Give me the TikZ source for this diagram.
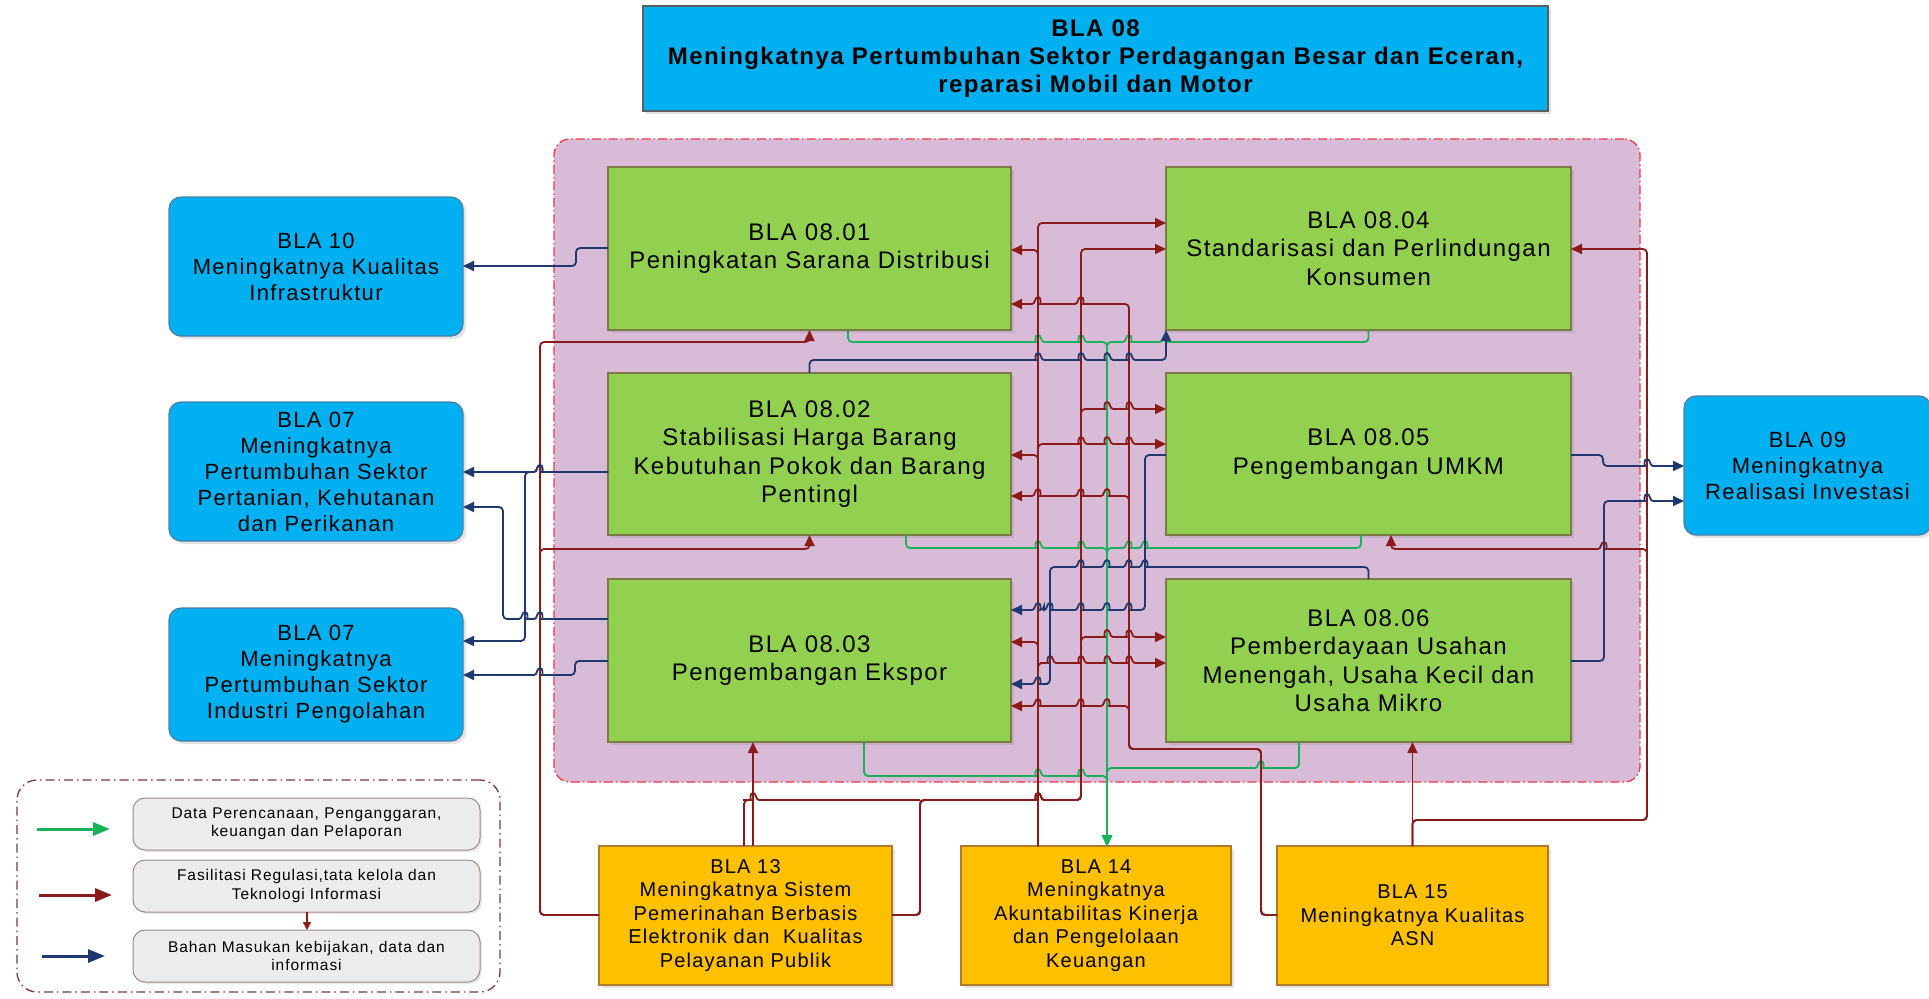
\documentclass[tikz,border=0pt]{standalone}
\usepackage{fontspec}
\setmainfont{Liberation Sans}[LetterSpace=6]
\usetikzlibrary{arrows.meta,shadows}
\definecolor{cblue}{HTML}{00B0F0}
\definecolor{cgreen}{HTML}{92D050}
\definecolor{cyel}{HTML}{FFC000}
\definecolor{cpurp}{HTML}{D8BCD7}
\definecolor{bborder}{HTML}{4A7EA8}
\definecolor{tborder}{HTML}{5A5F66}
\definecolor{gborder}{HTML}{7D7A48}
\definecolor{yborder}{HTML}{B07A30}
\definecolor{lred}{HTML}{8B1A1A}
\definecolor{lblue}{HTML}{1F3870}
\definecolor{lgreen}{HTML}{19B25A}
\definecolor{frame}{HTML}{F0364A}
\definecolor{legb}{HTML}{A08A8A}
\definecolor{legfill}{HTML}{ECECEC}
\definecolor{legframe}{HTML}{7A3A3A}
\newcommand\hopR[2]{-- ({#1-6},#2) [sharp corners] .. controls ({#1-2.5},#2) and ({#1-3.5},{#2-7}) .. (#1,{#2-7}) .. controls ({#1+3.5},{#2-7}) and ({#1+2.5},#2) .. ({#1+6},#2) [rounded corners=4pt]}
\newcommand\hopL[2]{-- ({#1+6},#2) [sharp corners] .. controls ({#1+2.5},#2) and ({#1+3.5},{#2-7}) .. (#1,{#2-7}) .. controls ({#1-3.5},{#2-7}) and ({#1-2.5},#2) .. ({#1-6},#2) [rounded corners=4pt]}
\begin{document}
\begin{tikzpicture}[x=1pt,y=-1pt,
  every node/.style={inner sep=0pt,outer sep=0pt},
  boxbase/.style={draw,line width=1.2pt,align=center,text=black,
    drop shadow={opacity=0.22,shadow xshift=3pt,shadow yshift=-3pt}},
  topbox/.style={boxbase,fill=cblue,draw=tborder,font=\bfseries\fontsize{24}{28}\selectfont},
  bluebox/.style={boxbase,fill=cblue,draw=bborder,rounded corners=12pt,font=\fontsize{22}{26}\selectfont},
  greenbox/.style={boxbase,fill=cgreen,draw=gborder,minimum height=163pt,font=\fontsize{24}{28.5}\selectfont},
  yelbox/.style={boxbase,fill=cyel,draw=yborder,minimum height=139pt,font=\fontsize{20}{23.5}\selectfont},
  legbox/.style={draw=legb,line width=1pt,fill=legfill,rounded corners=12pt,align=center,
    minimum width=347pt,minimum height=52pt,font=\fontsize{15.5}{18.5}\selectfont,
    drop shadow={opacity=0.18,shadow xshift=2pt,shadow yshift=-2pt}},
  conn/.style={line width=1.8pt,rounded corners=4pt,-{Triangle[length=11pt,width=10pt]}},
  rl/.style={conn,draw=lred},
  rln/.style={rl,-},
  bl/.style={conn,draw=lblue},
  gl/.style={conn,draw=lgreen},
  legarrow/.style={line width=3pt,-{Triangle[length=17pt,width=13pt]}},
]
\useasboundingbox (0,0) rectangle (1929,998);

% container and legend frame
\node[draw=frame,line width=1.3pt,fill=cpurp,rounded corners=16pt,
  dash pattern=on 9pt off 3pt on 1.5pt off 3pt,
  minimum width=1086pt,minimum height=643pt] (cont) at (1097,460.5) {};
\node[draw=legframe,line width=1.3pt,rounded corners=20pt,
  dash pattern=on 9pt off 4pt on 1.5pt off 4pt,
  minimum width=483pt,minimum height=212pt] (leg) at (258.5,886) {};

% boxes
\node[topbox,minimum width=905pt,minimum height=105pt] (b08) at (1095.5,58.5)
  {BLA 08\\Meningkatnya Pertumbuhan Sektor Perdagangan Besar dan Eceran,\\reparasi Mobil dan Motor};
\node[greenbox,minimum width=403pt] (b01) at (809.5,248.5) {BLA 08.01\\Peningkatan Sarana Distribusi};
\node[greenbox,minimum width=403pt,minimum height=162pt] (b02) at (809.5,454) {BLA 08.02\\Stabilisasi Harga Barang\\Kebutuhan Pokok dan Barang\\Pentingl};
\node[greenbox,minimum width=403pt] (b03) at (809.5,660.5) {BLA 08.03\\Pengembangan Ekspor};
\node[greenbox,minimum width=405pt] (b04) at (1368.5,248.5) {BLA 08.04\\Standarisasi dan Perlindungan\\Konsumen};
\node[greenbox,minimum width=405pt,minimum height=162pt] (b05) at (1368.5,454) {BLA 08.05\\Pengembangan UMKM};
\node[greenbox,minimum width=405pt] (b06) at (1368.5,660.5) {BLA 08.06\\Pemberdayaan Usahan\\Menengah, Usaha Kecil dan\\Usaha Mikro};

\node[bluebox,minimum width=294pt,minimum height=139pt] (b10) at (316,266.5) {BLA 10\\Meningkatnya Kualitas\\Infrastruktur};
\node[bluebox,minimum width=294pt,minimum height=139pt] (b07a) at (316,471.5) {BLA 07\\Meningkatnya\\Pertumbuhan Sektor\\Pertanian, Kehutanan\\dan Perikanan};
\node[bluebox,minimum width=294pt,minimum height=133pt] (b07b) at (316,674.5) {BLA 07\\Meningkatnya\\Pertumbuhan Sektor\\Industri Pengolahan};
\node[bluebox,minimum width=247pt,minimum height=139pt] (b09) at (1807.5,465.5) {BLA 09\\Meningkatnya\\Realisasi Investasi};

\node[yelbox,minimum width=293pt] (b13) at (745.5,915.5) {BLA 13\\Meningkatnya Sistem\\Pemerinahan Berbasis\\Elektronik dan\ \ Kualitas\\Pelayanan Publik};
\node[yelbox,minimum width=270pt] (b14) at (1096,915.5) {BLA 14\\Meningkatnya\\Akuntabilitas Kinerja\\dan Pengelolaan\\Keuangan};
\node[yelbox,minimum width=271pt] (b15) at (1412.5,915.5) {BLA 15\\Meningkatnya Kualitas\\ASN};

% legend
\node[legbox] (l1) at (306.5,824) {Data Perencanaan, Penganggaran,\\keuangan dan Pelaporan};
\node[legbox] (l2) at (306.5,886) {Fasilitasi Regulasi,tata kelola dan\\Teknologi Informasi};
\node[legbox] (l3) at (306.5,956) {Bahan Masukan kebijakan, data dan\\informasi};
\coordinate (g1a) at (37,829);  \coordinate (g1b) at (110,829);
\coordinate (g2a) at (39,895);  \coordinate (g2b) at (112,895);
\coordinate (g3a) at (42,956);  \coordinate (g3b) at (105,956);
\draw[legarrow,draw=lgreen,fill=lgreen] (g1a) -- (g1b);
\draw[legarrow,draw=lred,fill=lred] (g2a) -- (g2b);
\draw[legarrow,draw=lblue,fill=lblue] (g3a) -- (g3b);
\draw[rl,line width=1.4pt,-{Triangle[length=8pt,width=8pt]}] (l2.south -| 307,0) -- (l3.north -| 307,0);

% green connectors -> BLA 14
\draw[gl] (b01.south -| 848,0) -- (848,342) \hopR{1038}{342} \hopR{1081}{342} -- (1107,342) -- (b14.north -| 1107,0);
\draw[gl] (b04.south) -- (1368.5,342) \hopL{1166}{342} \hopL{1129}{342} -- (1107,342) -- (b14.north -| 1107,0);
\draw[gl] (b02.south -| 906,0) -- (906,548) \hopR{1038}{548} \hopR{1081}{548} -- (1107,548) -- (b14.north -| 1107,0);
\draw[gl] (b05.south -| 1361,0) -- (1361,548) \hopL{1145}{548} \hopL{1129}{548} -- (1107,548) -- (b14.north -| 1107,0);
\draw[gl] (b03.south -| 864,0) -- (864,776) \hopR{1038}{776} \hopR{1081}{776} -- (1107,776) -- (b14.north -| 1107,0);
\draw[gl] (b06.south -| 1299,0) -- (1299,768) \hopL{1261}{768} -- (1107,768) -- (b14.north -| 1107,0);

% red connectors from BLA 14
\draw[rl] (b14.north -| 1038,0) -- (1038,223) -- (b04.west |- 0,223);
\draw[rl] (b14.north -| 1038,0) -- (1038,250) -- (b01.east |- 0,250);
\draw[rl] (b14.north -| 1038,0) -- (1038,444) \hopR{1081}{444} \hopR{1107}{444} \hopR{1129}{444} -- (b05.west |- 0,444);
\draw[rl] (b14.north -| 1038,0) -- (1038,455) -- (b02.east |- 0,455);
\draw[rl] (b14.north -| 1038,0) -- (1038,642) -- (b03.east |- 0,642);
\draw[rl] (b14.north -| 1038,0) -- (1038,663) \hopR{1050}{663} \hopR{1081}{663} \hopR{1107}{663} \hopR{1129}{663} -- (b06.west |- 0,663);

% red connectors from BLA 13
\draw[rln] (b13.north -| 744,0) -- (744,800) \hopR{753}{800} -- (920,800);
\draw[rl] (b13.east |- 0,915) -- (920,915) -- (920,800) \hopR{1038}{800} -- (1081,800) -- (1081,249) -- (b04.west |- 0,249);
\draw[rl] (b13.east |- 0,915) -- (920,915) -- (920,800) \hopR{1038}{800} -- (1081,800) -- (1081,409) \hopR{1107}{409} \hopR{1129}{409} -- (b05.west |- 0,409);
\draw[rl] (b13.east |- 0,915) -- (920,915) -- (920,800) \hopR{1038}{800} -- (1081,800) -- (1081,637) \hopR{1107}{637} \hopR{1129}{637} -- (b06.west |- 0,637);
\draw[rl] (b13.north -| 753,0) -- (b03.south -| 753,0);
\draw[rl] (b13.west |- 0,915) -- (540,915) -- (540,342) -| (b01.south);
\draw[rl] (b13.west |- 0,915) -- (540,915) -- (540,549) -| (b02.south);

% red connectors from BLA 15
\draw[rl] (b15.west |- 0,915) -- (1261,915) -- (1261,749) -- (1129,749) -- (1129,304) \hopL{1081}{304} \hopL{1038}{304} -- (b01.east |- 0,304);
\draw[rl] (b15.west |- 0,915) -- (1261,915) -- (1261,749) -- (1129,749) -- (1129,496) \hopL{1107}{496} \hopL{1081}{496} \hopL{1038}{496} -- (b02.east |- 0,496);
\draw[rl] (b15.west |- 0,915) -- (1261,915) -- (1261,749) -- (1129,749) -- (1129,706) \hopL{1107}{706} \hopL{1081}{706} \hopL{1038}{706} -- (b03.east |- 0,706);
\draw[rl] (b15.north) -- (b15.north |- b06.south);
\draw[rl] (b15.north) -- (1412.5,820) -- (1647,820) -- (1647,249) -- (b04.east |- 0,249);
\draw[rl] (b15.north) -- (1412.5,820) -- (1647,820) -- (1647,549) \hopL{1604}{549} -- (1391,549) -- (b05.south -| 1391,0);

% blue connectors
\draw[bl] (b01.west |- 0,248) -- (576,248) -- (576,266) -- (b10.east |- 0,266);
\draw[bl] (b02.west |- 0,472) \hopL{540}{472} -- (b07a.east |- 0,472);
\draw[bl] (b02.west |- 0,472) \hopL{540}{472} -- (525,472) -- (525,641) -- (b07b.east |- 0,641);
\draw[bl] (b03.west |- 0,619) \hopL{540}{619} \hopL{525}{619} -- (503,619) -- (503,507) -- (b07a.east |- 0,507);
\draw[bl] (b03.west |- 0,661) -- (575,661) -- (575,675) \hopL{540}{675} -- (b07b.east |- 0,675);
\draw[bl] (b02.north) -- (809.5,360) \hopR{1038}{360} \hopR{1081}{360} \hopR{1107}{360} \hopR{1129}{360} -- (1166,360) -- (b04.south west);
\draw[bl] (b05.west |- 0,455) -- (1145,455) -- (1145,610) \hopL{1129}{610} \hopL{1107}{610} \hopL{1081}{610} \hopL{1050}{610} \hopL{1038}{610} -- (b03.east |- 0,610);
\draw[bl] (b06.north) -- (1368.5,567) \hopL{1145}{567} \hopL{1129}{567} \hopL{1107}{567} \hopL{1081}{567} -- (1050,567) -- (1050,684) \hopL{1038}{684} -- (b03.east |- 0,684);
\draw[bl] (b05.east |- 0,455) -- (1603,455) -- (1603,466) \hopR{1647}{466} -- (b09.west |- 0,466);
\draw[bl] (b06.east |- 0,661) -- (1604,661) -- (1604,501) \hopR{1647}{501} -- (b09.west |- 0,501);
\end{tikzpicture}
\end{document}
